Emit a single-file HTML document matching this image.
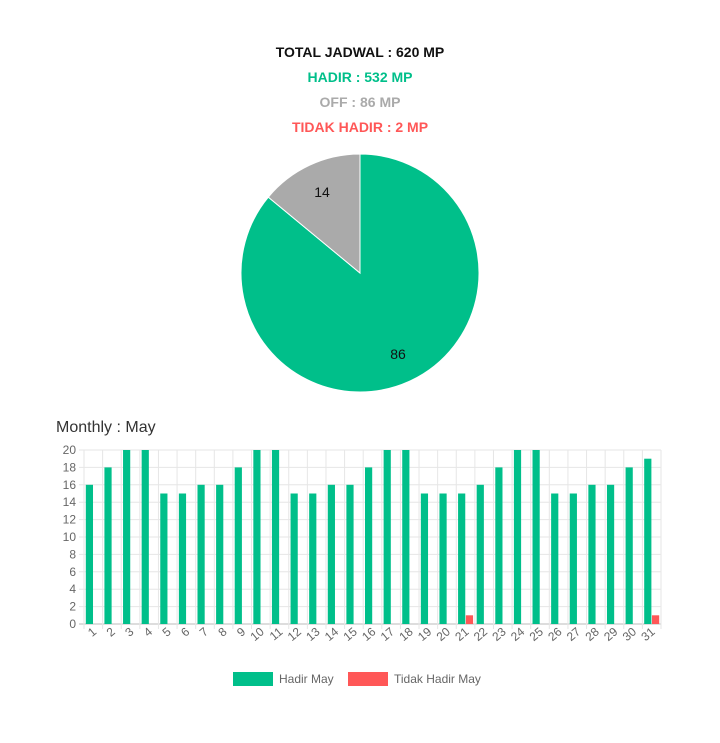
<!DOCTYPE html>
<html><head><meta charset="utf-8"><style>
body{margin:0;background:#fff;font-family:"Liberation Sans",sans-serif;}
</style></head><body>
<svg width="720" height="738" xmlns="http://www.w3.org/2000/svg">
<g font-family="Liberation Sans, sans-serif" font-weight="bold" font-size="14" text-anchor="middle">
<text x="360" y="57" fill="#111">TOTAL JADWAL : 620 MP</text>
<text x="360" y="82" fill="#00bf8a">HADIR : 532 MP</text>
<text x="360" y="107" fill="#aaaaaa">OFF : 86 MP</text>
<text x="360" y="132" fill="#ff5757">TIDAK HADIR : 2 MP</text>
</g>
<g id="pie"></g>
<text x="56" y="432" font-size="16" fill="#333">Monthly : May</text>
<g id="bar"></g>
<rect x="233" y="672" width="40" height="14" fill="#00bf8a"/>
<text x="279" y="683" font-size="12" fill="#666">Hadir May</text>
<rect x="348" y="672" width="40" height="14" fill="#ff5757"/>
<text x="394" y="683" font-size="12" fill="#666">Tidak Hadir May</text>
</svg>
<script>
const pieLabels=["Hadir","Off"];
const pieValues=[86,14];
const pieColors=["#00bf8a","#aaaaaa"];
const days=[1,2,3,4,5,6,7,8,9,10,11,12,13,14,15,16,17,18,19,20,21,22,23,24,25,26,27,28,29,30,31];
const hadir=[16,18,20,20,15,15,16,16,18,20,20,15,15,16,16,18,20,20,15,15,15,16,18,20,20,15,15,16,16,18,19];
const tidakHadir=[0,0,0,0,0,0,0,0,0,0,0,0,0,0,0,0,0,0,0,0,1,0,0,0,0,0,0,0,0,0,1];
const yTicks=[0,2,4,6,8,10,12,14,16,18,20];
const NS="http://www.w3.org/2000/svg";
function mk(p,t,a){const e=document.createElementNS(NS,t);for(const k in a)e.setAttribute(k,a[k]);p.appendChild(e);return e;}
// pie
const pie=document.getElementById('pie');
const cx=360,cy=273,R=119;
const tot=pieValues.reduce((a,b)=>a+b,0);
let ang=-Math.PI/2;
pieValues.forEach((v,i)=>{
  const a2=ang+v/tot*2*Math.PI;
  const large=(a2-ang)>Math.PI?1:0;
  const p=mk(pie,'path',{d:`M${cx},${cy}L${cx+R*Math.cos(ang)},${cy+R*Math.sin(ang)}A${R},${R} 0 ${large} 1 ${cx+R*Math.cos(a2)},${cy+R*Math.sin(a2)}Z`,fill:pieColors[i],stroke:'#fff','stroke-width':1});
  
  
  const m=(ang+a2)/2;
  const t=mk(pie,'text',{x:cx+R*0.75*Math.cos(m),y:cy+R*0.75*Math.sin(m)+5,'text-anchor':'middle','font-size':14,fill:'#111'});
  t.textContent=v;
  
  
  ang=a2;
});
// bar
const bar=document.getElementById('bar');
const L=84,Rr=661,T=450,B=624,ymax=20;
const cw=(Rr-L)/days.length;
const y=v=>B-(v/ymax)*(B-T);
const xc=i=>L+(i+0.5)*cw;
yTicks.forEach(v=>{
  const g=mk(bar,'line',{x1:L-5,x2:Rr,y1:y(v),y2:y(v),stroke:v===0?'#bbb':'#e6e6e6'});
  
  
  const t=mk(bar,'text',{x:L-8,y:y(v)+4,'text-anchor':'end','font-size':12,fill:'#666'});
  t.textContent=v;
  
  
});
for(let i=0;i<=days.length;i++){
  const g=mk(bar,'line',{x1:L+i*cw,x2:L+i*cw,y1:T,y2:B+5,stroke:'#e6e6e6'});
  
  
}
const bw=7.2;
days.forEach((d,i)=>{
  const c=xc(i);
  const r1=mk(bar,'rect',{x:c-bw-0.3,y:y(hadir[i]),width:bw,height:B-y(hadir[i]),fill:'#00bf8a'});
  
  
  if(tidakHadir[i]>0){
    const r2=mk(bar,'rect',{x:c+0.3,y:y(tidakHadir[i]),width:bw,height:B-y(tidakHadir[i]),fill:'#ff5757'});
    
    
  }
  const t=mk(bar,'text',{x:0,y:0,'text-anchor':'end','font-size':12,fill:'#666',transform:`translate(${c+4},${B+9}) rotate(-40)`});
  t.textContent=d;
  
  
});
</script>
</body></html>
